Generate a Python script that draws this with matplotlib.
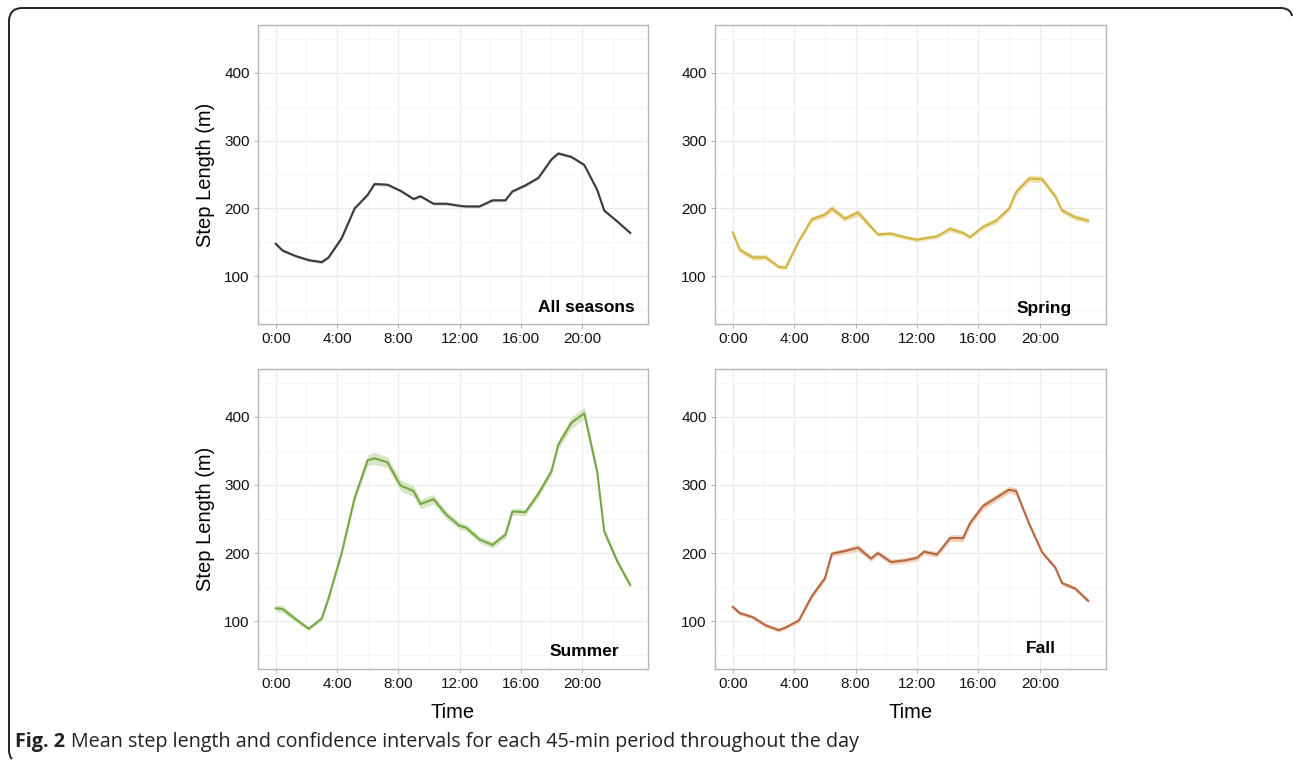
import numpy as np
import matplotlib
matplotlib.use('Agg')
import matplotlib.pyplot as plt
from matplotlib.path import Path
from matplotlib.patches import PathPatch

plt.rcParams['font.family'] = ['Liberation Sans', 'DejaVu Sans']

# time of each 45-min period, written as H.MM like in the original data
times = [0.00, 0.45, 1.30, 2.15, 3.00, 3.45, 4.30, 5.15, 6.00, 6.45, 7.30, 8.15,
         9.00, 9.45, 10.30, 11.15, 12.00, 12.45, 13.30, 14.15, 15.00, 15.45,
         16.30, 17.15, 18.00, 18.45, 19.30, 20.15, 21.00, 21.45, 22.30, 23.15]

all_mean = [148, 138, 130, 124, 121, 128, 156, 200, 220, 236, 235, 226,
            214, 218, 207, 207, 204, 203, 203, 212, 212, 225, 234, 245,
            272, 281, 276, 264, 227, 197, 181, 164]
all_ci = [2, 2, 2, 2, 2, 2, 2, 2, 2, 2, 2, 2, 2, 2, 2, 2,
          2, 2, 2, 2, 2, 2, 2, 2, 2, 2, 2, 2, 2, 2, 2, 2]

spring_mean = [165, 139, 128, 128, 114, 113, 152, 184, 191, 200, 185, 194,
               173, 162, 163, 158, 154, 156, 159, 170, 164, 158, 173, 182,
               200, 224, 244, 243, 218, 197, 187, 182]
spring_ci = [3, 4, 4, 4, 3, 3, 3, 4, 4, 5, 4, 5, 4, 3, 3, 3,
             3, 3, 3, 4, 3, 3, 4, 4, 4, 5, 5, 5, 4, 4, 4, 4]

summer_mean = [119, 118, 103, 89, 104, 134, 200, 281, 336, 339, 333, 299,
               291, 272, 279, 256, 240, 237, 220, 212, 227, 261, 260, 287,
               320, 359, 391, 405, 318, 232, 188, 153]
summer_ci = [5, 5, 4, 3, 3, 4, 5, 6, 8, 9, 8, 8, 8, 7, 7, 6,
             5, 5, 5, 5, 5, 5, 5, 6, 6, 7, 8, 9, 6, 5, 5, 4]

fall_mean = [121, 112, 106, 94, 87, 91, 101, 137, 163, 199, 203, 208,
             192, 200, 187, 189, 193, 202, 198, 222, 222, 244, 269, 281,
             293, 291, 243, 201, 179, 156, 148, 130]
fall_ci = [3, 3, 3, 3, 3, 3, 3, 4, 4, 4, 4, 5, 4, 4, 4, 4,
           4, 4, 4, 5, 5, 5, 5, 5, 5, 5, 4, 3, 3, 3, 3, 3]

panels = [
    ('All seasons', all_mean, all_ci, '#3a3a3a', '#c8c8c8'),
    ('Spring', spring_mean, spring_ci, '#d2b443', '#efe2b0'),
    ('Summer', summer_mean, summer_ci, '#78a746', '#d6e6c3'),
    ('Fall', fall_mean, fall_ci, '#b8683e', '#eed0bc'),
]
label_pos = [(0.967, 0.040), (0.913, 0.038), (0.926, 0.043), (0.872, 0.053)]

W, H = 1293, 761
fig = plt.figure(figsize=(W / 100, H / 100), dpi=100)

boxes = [(258, 25, 648, 324), (715, 25, 1106, 324),
         (258, 369, 648, 669), (715, 369, 1106, 669)]

x = np.array(times)
for i, (name, mean, ci, col, band) in enumerate(panels):
    l, t, r, b = boxes[i]
    ax = fig.add_axes([l / W, 1 - b / H, (r - l) / W, (b - t) / H])
    m = np.array(mean, dtype=float)
    c = np.array(ci, dtype=float)
    ax.fill_between(x, m - c, m + c, color=band, lw=0, zorder=2)
    ax.plot(x, m, color=col, lw=1.5, zorder=3)

    ax.set_xlim(-1.16, 24.31)
    ax.set_ylim(30, 470)
    ax.set_xticks([0, 4, 8, 12, 16, 20])
    ax.set_xticklabels(['0:00', '4:00', '8:00', '12:00', '16:00', '20:00'])
    ax.set_xticks([2, 6, 10, 14, 18, 22], minor=True)
    ax.set_yticks([100, 200, 300, 400])
    ax.set_yticks([50, 150, 250, 350, 450], minor=True)
    ax.grid(which='major', color='#ebebeb', lw=0.9, zorder=0)
    ax.grid(which='minor', color='#f5f5f5', lw=0.6, zorder=0)
    ax.set_axisbelow(True)
    for s in ax.spines.values():
        s.set_color('#b5b5b5')
        s.set_linewidth(1.0)
    ax.tick_params(which='major', length=3, color='#b5b5b5', labelsize=11,
                   labelcolor='#111111', pad=3)
    ax.tick_params(which='minor', length=0)

    if i % 2 == 0:
        ax.set_ylabel('Step Length (m)', fontsize=14.5)
        ax.yaxis.set_label_coords(-0.11, 0.5)
    if i >= 2:
        ax.set_xlabel('Time', fontsize=14.5)
        ax.xaxis.set_label_coords(0.5, -0.115)

    ax.text(label_pos[i][0], label_pos[i][1], name, transform=ax.transAxes,
            ha='right', va='baseline', fontsize=12.5, fontweight='bold')

# rounded frame around the figure (left and top edges)
pts = [(1292, 16), (1291, 9), (1282, 8), (22, 8), (10, 8), (9, 20),
       (9, 750), (9, 756), (12, 759)]
codes = [Path.MOVETO, Path.CURVE3, Path.CURVE3, Path.LINETO, Path.CURVE3,
         Path.CURVE3, Path.LINETO, Path.CURVE3, Path.CURVE3]
verts = [(px / W, 1 - py / H) for px, py in pts]
fig.patches.append(PathPatch(Path(verts, codes), transform=fig.transFigure,
                             fill=False, lw=1.4, edgecolor='#222222'))

fig.text(15 / W, 1 - 747 / H, 'Fig. 2', fontsize=14.2, fontweight='bold',
         family=['Open Sans', 'DejaVu Sans'], va='baseline', color='#222222')
fig.text(71 / W, 1 - 747 / H,
         'Mean step length and confidence intervals for each 45-min period throughout the day',
         fontsize=14.2, family=['Open Sans', 'DejaVu Sans'], va='baseline', color='#222222')

plt.savefig('out.png', dpi=100)
